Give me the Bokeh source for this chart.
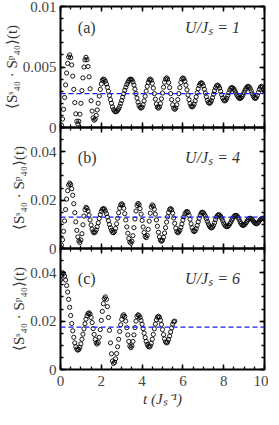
from bokeh.plotting import figure
from bokeh.layouts import column
from bokeh.models import Range1d, LinearAxis, FixedTicker, Span, Label
from bokeh.embed import file_html
from bokeh.resources import INLINE

t_a = [round(0.05 * i, 2) for i in range(201)]
s_a = [0.0000, 0.00018, 0.0007, 0.0015, 0.00248, 0.00352, 0.0045, 0.0053, 0.00582, 0.0060,
       0.00578, 0.00517, 0.00424, 0.00315, 0.00206, 0.00113, 0.00052, 0.0003, 0.00051, 0.0011,
       0.0020, 0.00305, 0.0041, 0.0050, 0.00559, 0.0058, 0.0056, 0.00504, 0.00419, 0.0032,
       0.00221, 0.00136, 0.0008, 0.0006, 0.0007, 0.0010, 0.00145, 0.0020, 0.0026, 0.00315,
       0.0036, 0.0039, 0.0040, 0.00395, 0.00382, 0.0036, 0.00332, 0.0030, 0.00265, 0.0023,
       0.0020, 0.0017, 0.00148, 0.00135, 0.0013, 0.00133, 0.00142, 0.00156, 0.00175, 0.00198,
       0.00223, 0.00251, 0.00279, 0.00307, 0.00333, 0.00355, 0.00374, 0.00388, 0.00397, 0.0040,
       0.00394, 0.00377, 0.00351, 0.00317, 0.0028, 0.00243, 0.00209, 0.00183, 0.00166, 0.0016,
       0.00167, 0.00188, 0.0022, 0.00259, 0.00301, 0.0034, 0.00372, 0.00393, 0.0040, 0.00391,
       0.00365, 0.00326, 0.0028, 0.00234, 0.00195, 0.00169, 0.0016, 0.0017, 0.00197, 0.00237,
       0.00285, 0.00333, 0.00374, 0.0040, 0.0041, 0.0040, 0.00372, 0.0033, 0.0028, 0.0023,
       0.00188, 0.0016, 0.0015, 0.0016, 0.00188, 0.0023, 0.0028, 0.0033, 0.00372, 0.0040,
       0.0041, 0.00403, 0.00382, 0.0035, 0.00311, 0.00269, 0.0023, 0.00198, 0.00177, 0.0017,
       0.00176, 0.00193, 0.0022, 0.00253, 0.00287, 0.0032, 0.00347, 0.00364, 0.0037, 0.00364,
       0.00345, 0.00317, 0.00285, 0.00253, 0.00225, 0.00206, 0.0020, 0.00206, 0.00222, 0.00246,
       0.00275, 0.00304, 0.00328, 0.00344, 0.0035, 0.00343, 0.00326, 0.00299, 0.00271, 0.00244,
       0.00226, 0.0022, 0.00226, 0.00241, 0.00263, 0.00287, 0.00309, 0.00325, 0.0033, 0.00327,
       0.00317, 0.00302, 0.00285, 0.00268, 0.00253, 0.00243, 0.0024, 0.00244, 0.00255, 0.00271,
       0.0029, 0.00309, 0.00325, 0.00336, 0.0034, 0.00335, 0.00321, 0.00301, 0.00279, 0.00259,
       0.00245, 0.0024, 0.00247, 0.00265, 0.0029, 0.00315, 0.00333, 0.0034, 0.00335, 0.0032,
       0.0030]

t_b = [round(0.05 * i, 2) for i in range(201)]
s_b = [0.0005, 0.0013, 0.0036, 0.0071, 0.0114, 0.0161, 0.0204, 0.0239, 0.0262, 0.027,
       0.0264, 0.0247, 0.022, 0.0185, 0.0148, 0.011, 0.0075, 0.0048, 0.0031, 0.0025,
       0.0035, 0.0061, 0.0098, 0.0134, 0.016, 0.017, 0.0166, 0.0155, 0.0138, 0.0118,
       0.0097, 0.008, 0.0069, 0.0065, 0.0068, 0.0077, 0.009, 0.0106, 0.0124, 0.014,
       0.0153, 0.0162, 0.0165, 0.0163, 0.0155, 0.0144, 0.013, 0.0115, 0.0099, 0.0086,
       0.0075, 0.0067, 0.0065, 0.007, 0.0083, 0.0102, 0.0125, 0.0148, 0.0167, 0.018,
       0.0185, 0.018, 0.0166, 0.0144, 0.0118, 0.0089, 0.0063, 0.0041, 0.0027, 0.0022,
       0.003, 0.0053, 0.0086, 0.0122, 0.0155, 0.0178, 0.0186, 0.0181, 0.0165, 0.0142,
       0.0116, 0.0089, 0.0066, 0.005, 0.0045, 0.0054, 0.0079, 0.0113, 0.0146, 0.0171,
       0.018, 0.0175, 0.0162, 0.0142, 0.0118, 0.0092, 0.0067, 0.0048, 0.0034, 0.003,
       0.0034, 0.0046, 0.0064, 0.0086, 0.0109, 0.0131, 0.0149, 0.0161, 0.0165, 0.016,
       0.0146, 0.0126, 0.0104, 0.0084, 0.007, 0.0065, 0.0068, 0.0075, 0.0087, 0.0101,
       0.0117, 0.0131, 0.0143, 0.015, 0.0153, 0.0149, 0.0137, 0.0121, 0.0102, 0.0086,
       0.0074, 0.007, 0.0073, 0.0082, 0.0095, 0.011, 0.0125, 0.0138, 0.0147, 0.015,
       0.0148, 0.0142, 0.0134, 0.0123, 0.0112, 0.0101, 0.0093, 0.0087, 0.0085, 0.0088,
       0.0095, 0.0106, 0.0119, 0.013, 0.0137, 0.014, 0.0138, 0.0133, 0.0125, 0.0115,
       0.0105, 0.0097, 0.0092, 0.009, 0.0091, 0.0095, 0.0102, 0.0109, 0.0118, 0.0125,
       0.0132, 0.0136, 0.0137, 0.0135, 0.0129, 0.0121, 0.0111, 0.0103, 0.0097, 0.0095,
       0.0097, 0.0101, 0.0107, 0.0113, 0.0119, 0.0124, 0.0125, 0.0123, 0.0119, 0.0113,
       0.0108, 0.0104, 0.0102, 0.0104, 0.0108, 0.0114, 0.0119, 0.0123, 0.0125, 0.0124,
       0.0121]

t_c = [round(0.05 * i, 2) for i in range(113)]
s_c = [0.037, 0.039, 0.040, 0.0396, 0.0386, 0.037, 0.0347, 0.032, 0.029, 0.0257,
       0.0223, 0.019, 0.016, 0.0133, 0.011, 0.0094, 0.0084, 0.008, 0.0083, 0.0092,
       0.0106, 0.0125, 0.0146, 0.0168, 0.0189, 0.0208, 0.0222, 0.0231, 0.0234, 0.0229,
       0.0215, 0.0194, 0.0169, 0.0145, 0.0124, 0.011, 0.0105, 0.0112, 0.0133, 0.0165,
       0.0203, 0.024, 0.0272, 0.0293, 0.030, 0.029, 0.026, 0.0215, 0.0162, 0.011,
       0.0065, 0.0035, 0.0025, 0.003, 0.0044, 0.0066, 0.0094, 0.0125, 0.0157, 0.0185,
       0.0207, 0.0221, 0.0226, 0.0219, 0.020, 0.0173, 0.0143, 0.0116, 0.0097, 0.009,
       0.0097, 0.0116, 0.0143, 0.0173, 0.020, 0.0219, 0.0226, 0.0223, 0.0215, 0.0203,
       0.0187, 0.0169, 0.015, 0.0132, 0.0116, 0.0104, 0.0096, 0.0093, 0.0097, 0.0108,
       0.0125, 0.0145, 0.0168, 0.0188, 0.0205, 0.0216, 0.022, 0.0216, 0.0204, 0.0186,
       0.0165, 0.0144, 0.0126, 0.0114, 0.011, 0.0113, 0.0124, 0.0138, 0.0155, 0.0172,
       0.0187, 0.0197, 0.020]

baselines = [0.0028, 0.013, 0.0175]
panel_tags = ["(a)", "(b)", "(c)"]
u_values = [1, 4, 6]
y_max = [0.01, 0.05, 0.05]
y_major = [[0, 0.005, 0.01], [0, 0.02, 0.04], [0, 0.02, 0.04]]
y_labels = [["0", "0.005", "0.01"], ["0", "0.02", "0.04"], ["0", "0.02", "0.04"]]
y_minor = [[0.001 * i for i in range(11)], [0.005 * i for i in range(11)], [0.005 * i for i in range(11)]]
tag_y = [0.0083, 0.0375, 0.0375]
x_major = [0, 2, 4, 6, 8, 10]
x_minor = [0.5 * i for i in range(21)]

SERIF = "Liberation Serif"
ylabel = "⟨Sˢ₄₀ · Sᵖ₄₀⟩(t)"


def style_axis(ax, show_labels):
    ax.axis_line_color = None
    ax.major_tick_in = 5
    ax.major_tick_out = 0
    ax.minor_tick_in = 3
    ax.minor_tick_out = 0
    ax.major_tick_line_color = "black"
    ax.minor_tick_line_color = "black"
    ax.major_tick_line_width = 1.5
    ax.minor_tick_line_width = 1.3
    if show_labels:
        ax.major_label_text_font = SERIF
        ax.major_label_text_font_size = "15px"
        ax.major_label_text_color = "#444444"
    else:
        ax.major_label_text_font_size = "0px"
        ax.major_label_text_color = None
        ax.major_label_standoff = 0


def make_panel(i, t, s, height, top, bottom, margin_top, last):
    p = figure(width=268, height=height, x_range=Range1d(0, 10), y_range=Range1d(0, y_max[i]),
               output_backend="svg", toolbar_location=None,
               min_border_left=54, min_border_right=4, min_border_top=top, min_border_bottom=bottom,
               x_axis_location=None, y_axis_location=None)
    if margin_top:
        p.margin = (margin_top, 0, 0, 0)
    p.border_fill_color = None
    p.background_fill_color = None
    p.outline_line_color = "black"
    p.outline_line_width = 2
    p.xgrid.visible = False
    p.ygrid.visible = False

    xt = FixedTicker(ticks=x_major, minor_ticks=x_minor)
    yt = FixedTicker(ticks=y_major[i], minor_ticks=y_minor[i])

    bx = LinearAxis(ticker=xt)
    style_axis(bx, last)
    if last:
        bx.axis_label = "t (Jₛ⁻¹)"
        bx.axis_label_text_font = SERIF
        bx.axis_label_text_font_style = "italic"
        bx.axis_label_text_font_size = "15px"
        bx.axis_label_text_color = "#333333"
        bx.major_label_standoff = 6
        bx.axis_label_standoff = 2
    p.add_layout(bx, "below")
    tx = LinearAxis(ticker=xt)
    style_axis(tx, False)
    p.add_layout(tx, "above")

    ly = LinearAxis(ticker=yt)
    style_axis(ly, True)
    ly.major_label_overrides = {v: lab for v, lab in zip(y_major[i], y_labels[i])}
    ly.major_label_standoff = 4
    ly.axis_label = ylabel
    ly.axis_label_text_font = SERIF
    ly.axis_label_text_font_style = "normal"
    ly.axis_label_text_font_size = "15px"
    ly.axis_label_text_color = "#333333"
    ly.axis_label_standoff = 0
    p.add_layout(ly, "left")
    ry = LinearAxis(ticker=yt)
    style_axis(ry, False)
    p.add_layout(ry, "right")

    p.add_layout(Span(location=baselines[i], dimension="width", line_color="#1a1aff",
                      line_dash="5 3", line_width=1.3))
    p.scatter(t, s, marker="circle", size=4.2, fill_color=None, line_color="black", line_width=0.9)

    p.add_layout(Label(x=0.85, y=tag_y[i], text=panel_tags[i],
                       text_font=SERIF, text_font_size="16px", text_baseline="middle",
                       text_color="#333333"))
    p.add_layout(Label(x=8.8, y=tag_y[i], text=f"U/Jₛ = {u_values[i]}",
                       text_font=SERIF, text_font_style="italic", text_font_size="16px",
                       text_align="right", text_baseline="middle", text_color="#333333"))
    return p


pa = make_panel(0, t_a, s_a, 135, 6, 8, 0, False)
pb = make_panel(1, t_b, s_b, 137, 8, 8, -16, False)
pc = make_panel(2, t_c, s_c, 169, 8, 40, -16, True)

layout = column(pa, pb, pc, spacing=0)
open("out.html", "w").write(file_html(layout, INLINE))
